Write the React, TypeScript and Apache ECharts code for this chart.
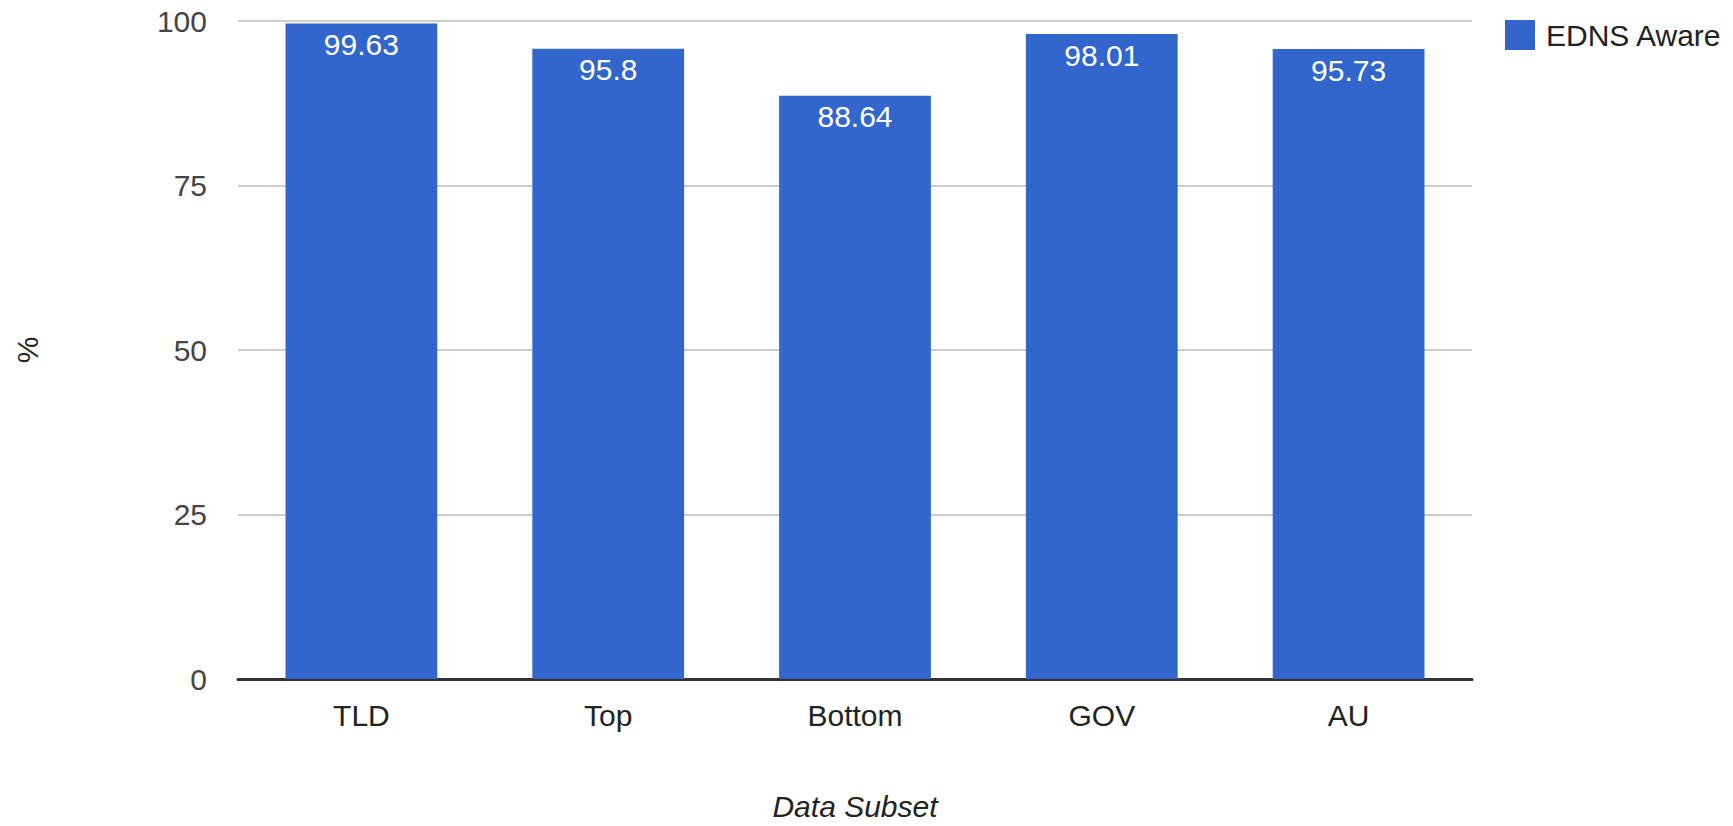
import React, { useEffect, useRef } from "react";
import * as echarts from "echarts";

const categories = ["TLD", "Top", "Bottom", "GOV", "AU"];
const ednsAware = [99.63, 95.8, 88.64, 98.01, 95.73];
const seriesName = "EDNS Aware";
const yTicks = { min: 0, max: 100, interval: 25 };

const FONT = "Arial, 'Liberation Sans', sans-serif";
const FS = 30;

export default function App() {
  const ref = useRef<HTMLDivElement>(null);
  useEffect(() => {
    if (!ref.current) return;
    const chart = echarts.init(ref.current, undefined, { renderer: "svg" });
    chart.setOption({
      animation: false,
      backgroundColor: "#ffffff",
      textStyle: { fontFamily: FONT },
      legend: {
        data: [seriesName],
        left: 1500,
        top: 15,
        itemWidth: 30,
        itemHeight: 30,
        itemGap: 10,
        icon: "rect",
        textStyle: { fontSize: FS, color: "#222222", fontFamily: FONT, padding: [0, 0, 0, 6] },
      },
      grid: { left: 238, right: 261, top: 21, bottom: 147, containLabel: false },
      xAxis: {
        type: "category",
        data: categories,
        name: "Data Subset",
        nameLocation: "middle",
        nameGap: 112,
        nameTextStyle: { fontSize: FS, fontStyle: "italic", color: "#222222", fontFamily: FONT },
        axisLine: { show: true, lineStyle: { color: "#333333", width: 3 } },
        axisTick: { show: false },
        axisLabel: { fontSize: FS, color: "#222222", margin: 21, fontFamily: FONT },
      },
      yAxis: {
        type: "value",
        min: yTicks.min,
        max: yTicks.max,
        interval: yTicks.interval,
        name: "%",
        nameLocation: "middle",
        nameRotate: 90,
        nameGap: 196,
        nameTextStyle: { fontSize: FS, color: "#222222", fontFamily: FONT },
        axisLine: { show: false },
        axisTick: { show: false },
        axisLabel: { fontSize: FS, color: "#444444", margin: 31, fontFamily: FONT },
        splitLine: { lineStyle: { color: "#cccccc", width: 2 } },
      },
      series: [
        {
          name: seriesName,
          type: "bar",
          data: ednsAware,
          barWidth: "61.5%",
          itemStyle: { color: "#3366cc" },
          label: {
            show: true,
            position: "insideTop",
            distance: 6,
            color: "#ffffff",
            fontSize: FS,
            fontFamily: FONT,
          },
        },
      ],
    });
    return () => chart.dispose();
  }, []);
  return (
    <div
      ref={ref}
      style={{ position: "fixed", left: 0, top: 0, width: 1733, height: 826 }}
    />
  );
}
